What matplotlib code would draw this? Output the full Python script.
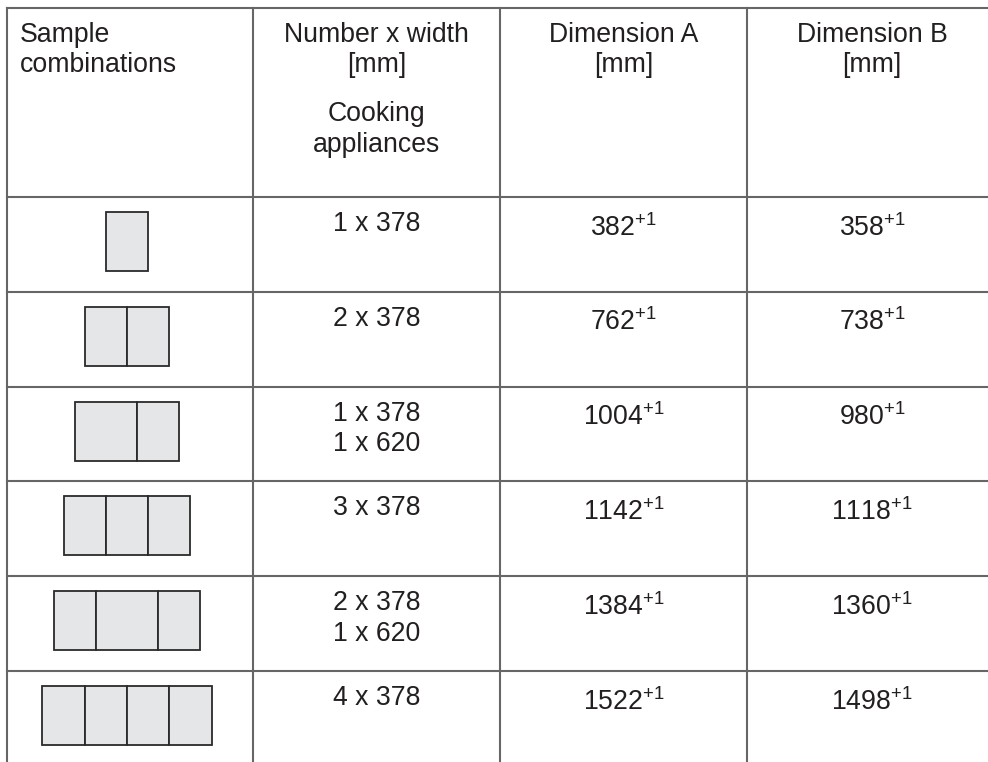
import matplotlib.pyplot as plt
from matplotlib.patches import Rectangle

plt.rcParams['font.family'] = ['Liberation Sans', 'DejaVu Sans']
plt.rcParams['mathtext.default'] = 'regular'

# table content
headers = ["Sample\ncombinations", "Number x width\n[mm]", "Dimension A\n[mm]", "Dimension B\n[mm]"]
header_note = "Cooking\nappliances"
combos = [[378], [378, 378], [620, 378], [378, 378, 378], [378, 620, 378], [378, 378, 378, 378]]
number_width = ["1 x 378", "2 x 378", "1 x 378\n1 x 620", "3 x 378", "2 x 378\n1 x 620", "4 x 378"]
dim_a = [382, 762, 1004, 1142, 1384, 1522]
dim_b = [358, 738, 980, 1118, 1360, 1498]
tolerance = "+1"

# layout (pixels)
col_x = [7, 253, 500, 747, 997]
top, head_bottom, row_h = 8, 197, 94.8
line_col = '#666666'
text_col = '#231f20'
fs = 19.2
lh = 30.5
module_px = {378: 42.3, 620: 62}

fig = plt.figure(figsize=(9.88, 7.62), dpi=100)
ax = fig.add_axes([0, 0, 1, 1])
ax.set_xlim(0, 988)
ax.set_ylim(762, 0)
ax.axis('off')

n = len(combos)
bottom = head_bottom + n * row_h

# grid
for x in col_x:
    ax.plot([x, x], [top, bottom], color=line_col, lw=1.5, solid_capstyle='projecting')
for y in [top, head_bottom] + [head_bottom + (i + 1) * row_h for i in range(n)]:
    ax.plot([col_x[0], col_x[-1]], [y, y], color=line_col, lw=1.5, solid_capstyle='projecting')

centers = [(col_x[i] + col_x[i + 1]) / 2 for i in range(4)]

def lines(x, y0, txt, ha='center'):
    for k, s in enumerate(txt.split('\n')):
        ax.text(x, y0 + k * lh, s, ha=ha, va='baseline', fontsize=fs, color=text_col)

# header
lines(col_x[0] + 13, 42, headers[0], ha='left')
for i in range(1, 4):
    lines(centers[i], 42, headers[i])
lines(centers[1], 121, header_note)

# rows
for r in range(n):
    y0 = head_bottom + r * row_h
    # icon
    widths = [module_px[m] for m in combos[r]]
    x = centers[0] - 3 - sum(widths) / 2
    for w in widths:
        ax.add_patch(Rectangle((x, y0 + 15), w, 59, facecolor='#e5e6e8',
                               edgecolor='#2a2a2a', lw=1.3))
        x += w
    lines(centers[1], y0 + 34, number_width[r])
    ax.text(centers[2], y0 + 38.5, f"{dim_a[r]}$^{{{tolerance}}}$", ha='center',
            va='baseline', fontsize=fs, color=text_col)
    ax.text(centers[3], y0 + 38.5, f"{dim_b[r]}$^{{{tolerance}}}$", ha='center',
            va='baseline', fontsize=fs, color=text_col)

plt.savefig('out.png', dpi=100)
